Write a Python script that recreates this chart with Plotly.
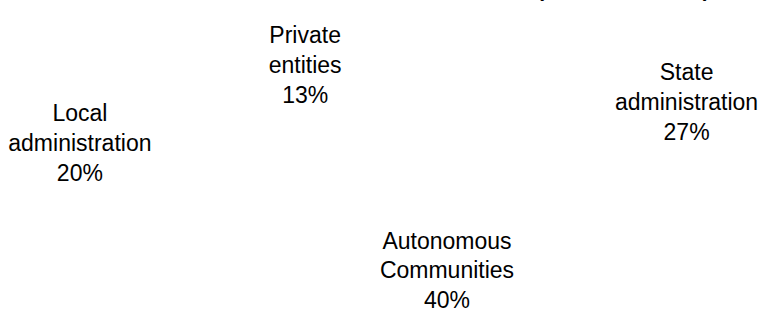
import math
import plotly.graph_objects as go

# ---- data ----
categories = ["State administration", "Autonomous Communities",
              "Local administration", "Private entities"]
label_lines = ["State<br>administration", "Autonomous<br>Communities",
               "Local<br>administration", "Private<br>entities"]
shares = [27, 40, 20, 13]
title_text = "<b>Distribution of R&D funds (%, 2019, of total)</b>"

# ---- layout / style constants ----
ROTATION = 5          # first slice start, degrees clockwise from 12 o'clock
FONT = "Liberation Sans, Arial, Helvetica, sans-serif"
W, H = 780, 314

# label positions: mid-angle of each slice on the unit circle (derived from data)
total = sum(shares)
cum = 0
lx, ly = [], []
for v in shares:
    mid = math.radians(ROTATION + 360.0 * (cum + v / 2.0) / total)
    lx.append(math.sin(mid))
    ly.append(math.cos(mid))
    cum += v
texts = [f"{l}<br>{round(100 * v / total)}%" for l, v in zip(label_lines, shares)]

fig = go.Figure()

# the pie itself (slices not painted in the reference)
fig.add_trace(go.Pie(
    labels=categories, values=shares, sort=False, direction="clockwise",
    rotation=ROTATION, textinfo="none", hoverinfo="label+percent",
    marker=dict(colors=["rgba(0,0,0,0)"] * len(shares), line=dict(width=0)),
    domain=dict(x=[0.426, 0.631], y=[0.212, 0.722]), showlegend=False,
))

# outside data labels around the pie
fig.add_trace(go.Scatter(
    x=lx, y=ly, mode="text", text=texts, textposition="middle center",
    textfont=dict(family=FONT, size=23, color="#000000"),
    hoverinfo="skip", showlegend=False,
))

fig.update_layout(
    width=W, height=H,
    margin=dict(l=0, r=0, t=0, b=0),
    paper_bgcolor="white", plot_bgcolor="white",
    showlegend=False,
    title=dict(text=title_text, xref="container", yref="container",
               x=0.910, xanchor="right", y=1.0, yanchor="bottom",
               pad=dict(b=3, t=0, l=0, r=0),
               font=dict(family=FONT, size=21, color="#000000")),
    xaxis=dict(range=[-1.2121, 1.0793], visible=False, fixedrange=True),
    yaxis=dict(range=[-1.3844, 1.5807], visible=False, fixedrange=True),
)

fig.write_html("out.html", config={"displayModeBar": False},
               post_script="document.body.style.margin='0';")
